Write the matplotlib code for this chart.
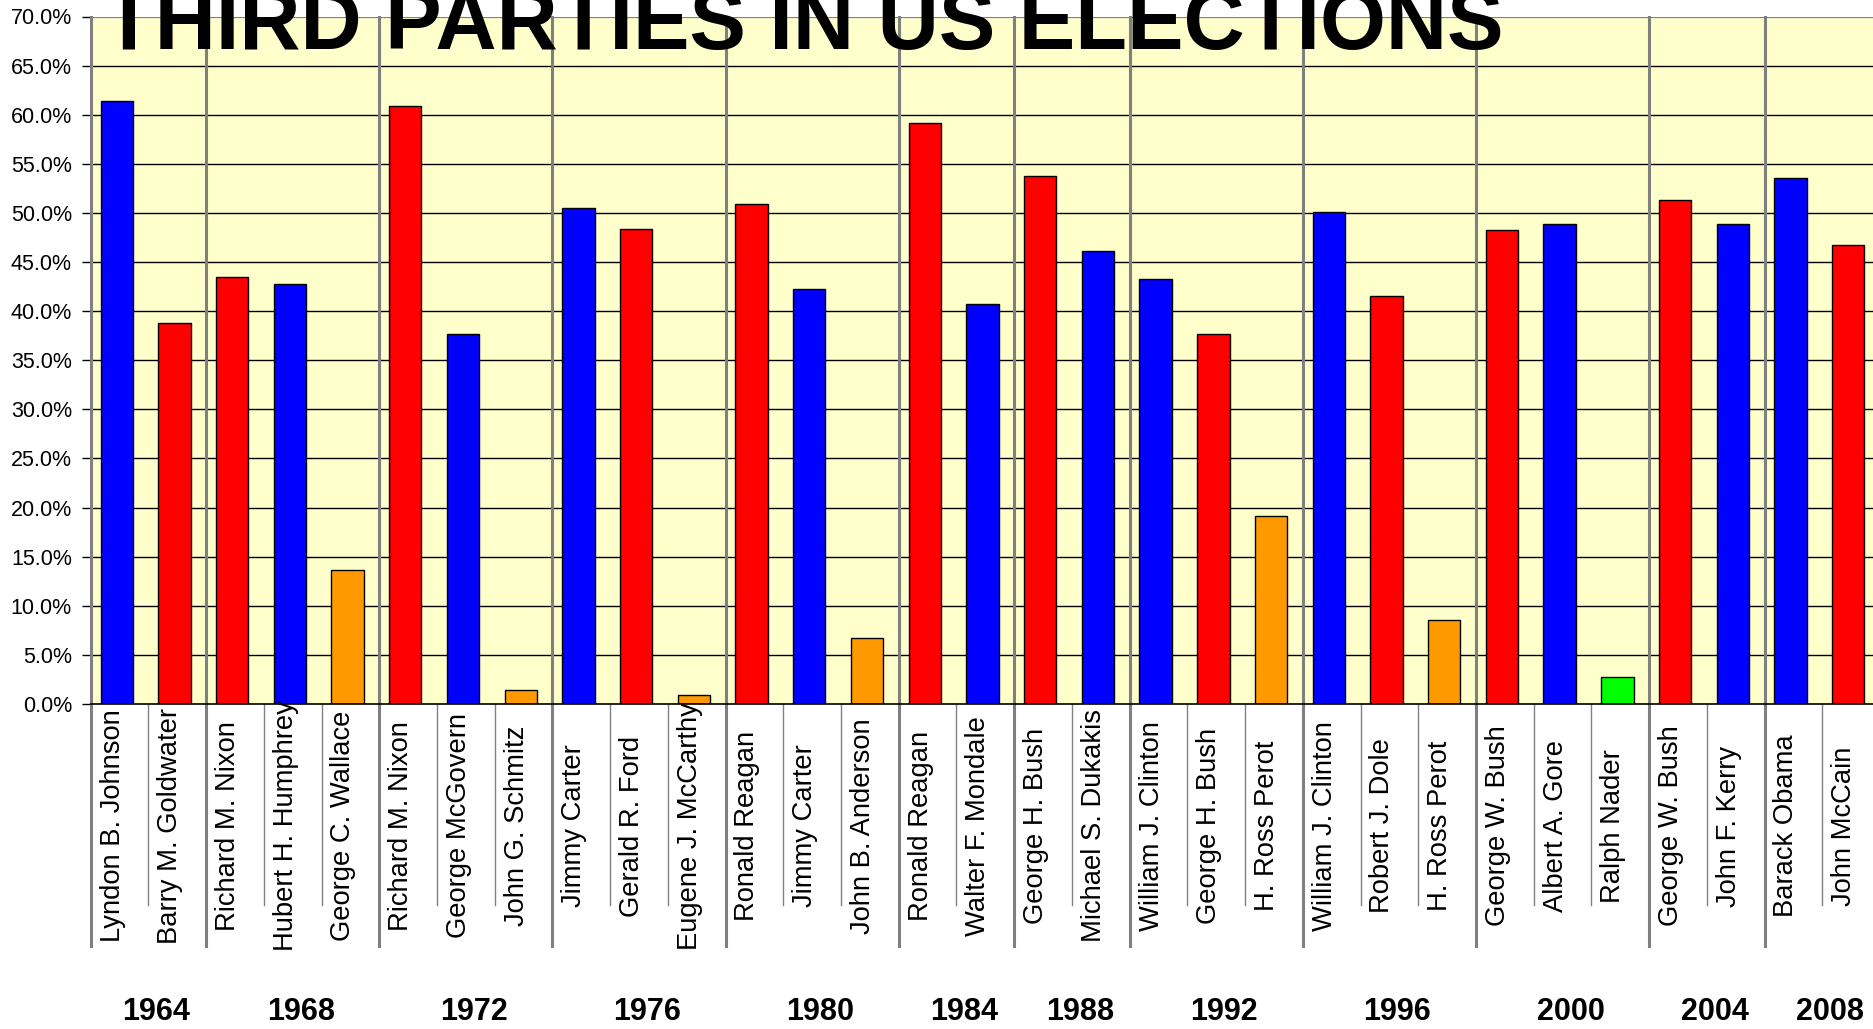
import matplotlib
matplotlib.use("Agg")
import matplotlib.pyplot as plt
from matplotlib import font_manager
from matplotlib.transforms import blended_transform_factory, offset_copy

# ---- data -------------------------------------------------------------
years = ["1964", "1968", "1972", "1976", "1980", "1984",
         "1988", "1992", "1996", "2000", "2004", "2008"]
candidates_per_year = [2, 3, 3, 3, 3, 2, 2, 3, 3, 3, 2, 2]
candidates = [
    "Lyndon B. Johnson", "Barry M. Goldwater",
    "Richard M. Nixon", "Hubert H. Humphrey", "George C. Wallace",
    "Richard M. Nixon", "George McGovern", "John G. Schmitz",
    "Jimmy Carter", "Gerald R. Ford", "Eugene J. McCarthy",
    "Ronald Reagan", "Jimmy Carter", "John B. Anderson",
    "Ronald Reagan", "Walter F. Mondale",
    "George H. Bush", "Michael S. Dukakis",
    "William J. Clinton", "George H. Bush", "H. Ross Perot",
    "William J. Clinton", "Robert J. Dole", "H. Ross Perot",
    "George W. Bush", "Albert A. Gore", "Ralph Nader",
    "George W. Bush", "John F. Kerry",
    "Barack Obama", "John McCain",
]
vote_share = [
    61.4, 38.8,
    43.5, 42.8, 13.6,
    60.9, 37.7, 1.4,
    50.5, 48.4, 0.9,
    50.9, 42.3, 6.7,
    59.2, 40.7,
    53.8, 46.1,
    43.3, 37.7, 19.1,
    50.1, 41.5, 8.6,
    48.3, 48.9, 2.7,
    51.3, 48.9,
    53.6, 46.7,
]
party = [
    "D", "R",
    "R", "D", "I",
    "R", "D", "I",
    "D", "R", "I",
    "R", "D", "I",
    "R", "D",
    "R", "D",
    "D", "R", "I",
    "D", "R", "I",
    "R", "D", "G",
    "R", "D",
    "D", "R",
]
party_colors = {"D": "#0000FF", "R": "#FF0000", "I": "#FF9900", "G": "#00FF00"}
y_ticks = list(range(0, 75, 5))

# ---- fonts ------------------------------------------------------------
plt.rcParams["font.family"] = ["Liberation Sans", "DejaVu Sans"]

# ---- figure -----------------------------------------------------------
W, H = 1874, 1029
fig = plt.figure(figsize=(W / 100, H / 100), dpi=100)
left_px, top_px, bottom_px, right_px = 90.7, 16.5, 704, 1880
ax = fig.add_axes([left_px / W, 1 - bottom_px / H,
                   (right_px - left_px) / W, (bottom_px - top_px) / H])
ax.set_facecolor("#FFFFCC")

n = len(candidates)
xs = list(range(n))
bar_x = [x - 0.05 for x in xs]
ax.bar(bar_x, vote_share, width=0.56,
       color=[party_colors[p] for p in party],
       edgecolor="black", linewidth=1.0, zorder=3)

ax.set_xlim(-0.5, n - 0.5)
ax.set_ylim(0, 70)
ax.set_yticks(y_ticks)
ax.set_yticklabels([f"{v:.1f}%" for v in y_ticks], fontsize=15.5)
ax.tick_params(axis="y", direction="out", length=6.5, width=1, color="black", pad=7)
ax.set_xticks([])

for v in y_ticks[1:]:
    ax.axhline(v, color="#000000" if v < 70 else "#808080",
               lw=1.0 if v < 70 else 1.6, zorder=1)

for side in ("top", "right", "left"):
    ax.spines[side].set_visible(False)
ax.spines["bottom"].set_color("black")
ax.spines["bottom"].set_linewidth(1.2)
ax.spines["bottom"].set_zorder(4)

trans = blended_transform_factory(ax.transData, ax.transAxes)
span = bottom_px - top_px
short_bottom = (bottom_px - 905) / span
long_bottom = (bottom_px - 946) / span

# boundaries between candidates and between election years
group_edges = [0]
for c in candidates_per_year:
    group_edges.append(group_edges[-1] + c)
for b in range(n + 1):
    xb = b - 0.5
    if b in group_edges:
        ax.plot([xb, xb], [long_bottom, 1.0], transform=trans, color="#808080",
                lw=2.2, clip_on=False, zorder=2)
    else:
        ax.plot([xb, xb], [short_bottom, 0.0], transform=trans, color="#808080",
                lw=1.0, clip_on=False, zorder=2)

# candidate names, rotated
label_y = (bottom_px - 826) / span
name_trans = offset_copy(trans, fig=fig, x=-7, y=0, units="dots")
for x, name in zip(xs, candidates):
    ax.text(x, label_y, name, transform=name_trans, rotation=90,
            ha="center", va="center", fontsize=19.7, color="black")

# election years under each group
year_y = (bottom_px - 1012) / span
year_trans = offset_copy(trans, fig=fig, x=8, y=0, units="dots")
for i, yr in enumerate(years):
    center = (group_edges[i] + group_edges[i + 1]) / 2 - 0.5
    ax.text(center, year_y, yr, transform=year_trans, ha="center", va="center",
            fontsize=22, fontweight="bold")

fig.text(103 / W, 1 - 49 / H, "THIRD PARTIES IN US ELECTIONS",
         ha="left", va="baseline", fontsize=61, fontweight="bold", zorder=10)

fig.savefig("out.png", dpi=100, facecolor="white")
